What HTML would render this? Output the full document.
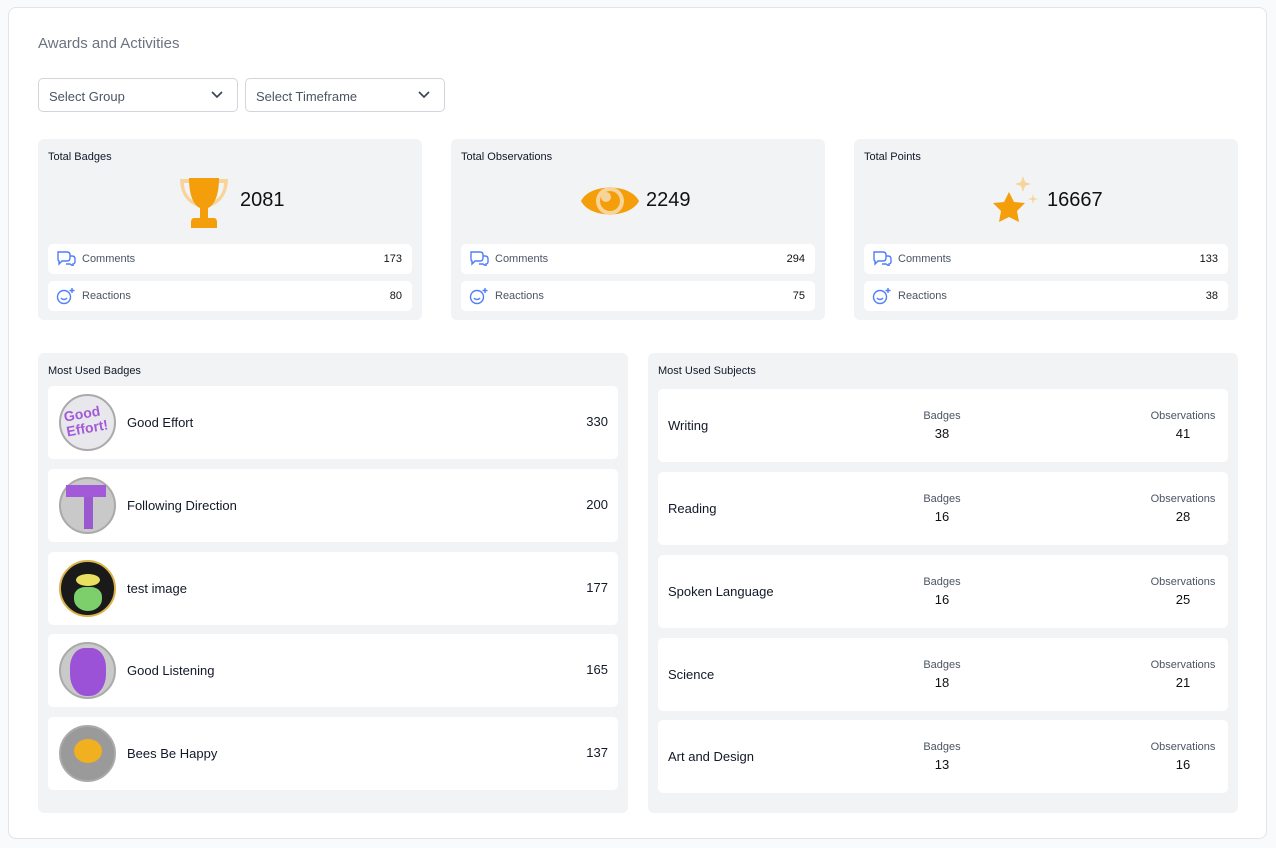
<!DOCTYPE html>
<html><head><style>
*{box-sizing:border-box;margin:0;padding:0}
body{width:1276px;height:848px;background:#f9fafb;font-family:"Liberation Sans",sans-serif;position:relative;overflow:hidden;color:#111827}
.abs{position:absolute}
.card{left:8px;top:7px;width:1259px;height:832px;background:#fff;border:1px solid #e2e4e8;border-radius:8px}
.sel{height:34px;top:78px;border:1px solid #d1d5db;border-radius:5px;font-size:13px;color:#4b5563;padding:10px 10px}
.sel svg{position:absolute;right:14px;top:12px}
.stat{top:139px;height:181px;background:#f2f3f5;border-radius:6px}
.stat .t{position:absolute;left:10px;top:12px;font-size:11px}
.row{position:absolute;left:10px;right:10px;height:30px;background:#fff;border-radius:5px;font-size:11px;color:#4b5563}
.row span.l{position:absolute;left:34px;top:9px}
.row span.r{position:absolute;right:10px;top:9px;color:#111;font-weight:500}
.row svg{position:absolute;left:8px;top:6px}
.big{position:absolute;top:50px;font-size:20px;color:#111}
.panel{top:353px;height:460px;background:#f2f3f5;border-radius:6px}
.panel .t{position:absolute;left:10px;top:12px;font-size:11px}
.b{position:absolute;left:10px;right:10px;height:73px;background:#fff;border-radius:5px}
.b .n{position:absolute;left:79px;top:29px;font-size:13px}
.b .v{position:absolute;right:10px;top:28px;font-size:13px}
.b .c{position:absolute;left:11px;top:8px;width:57px;height:57px;border-radius:50%;background:#c9c9c9;border:2px solid #aaa}
.s{position:absolute;left:10px;right:10px;height:73px;background:#fff;border-radius:5px}
.s .n{position:absolute;left:10px;top:29px;font-size:13px}
.s .col{position:absolute;top:20px;width:120px;text-align:center;font-size:11px;color:#4b5563;line-height:15px}
.s .col b{display:block;font-weight:normal;color:#111;font-size:13px;margin-top:2px}
</style></head><body>
<div class="abs card"></div>
<div class="abs" style="left:38px;top:35px;font-size:15px;color:#6b7280">Awards and Activities</div>
<div class="abs sel" style="left:38px;width:200px">Select Group<svg width="12" height="8"><path d="M1 1l5 5 5-5" stroke="#374151" stroke-width="1.6" fill="none"/></svg></div>
<div class="abs sel" style="left:245px;width:200px">Select Timeframe<svg width="12" height="8"><path d="M1 1l5 5 5-5" stroke="#374151" stroke-width="1.6" fill="none"/></svg></div>

<div class="abs stat" style="left:38px;width:384px"><div class="t">Total Badges</div>
<svg class="abs" style="left:136px;top:35px" width="60" height="55" viewBox="0 0 60 55"><path d="M6 5h12v4H10c0 10 6 17 14 20l-2 3C12 28 6 18 6 5zM54 5H42v4h8c0 10-6 17-14 20l2 3C48 28 54 18 54 5z" fill="#f7d49a"/><path d="M15 4h30c0 20-6 28-11 30v10h6c2 0 3 2 3 4v6H17v-6c0-2 1-4 3-4h6V34C21 32 15 24 15 4z" fill="#f59e0b"/></svg>
<div class="big" style="left:202px">2081</div>
<div class="row" style="top:105px"><svg width="20" height="16"><path d="M2 2h9c2 0 3 1 3 3v3c0 2-1 3-3 3H6l-3 3v-3c-1 0-1-1-1-3V5c0-2 0-3 0-3zM14 6h2c2 0 3 1 3 3v3c0 1-1 2-2 2v2l-3-2h-4" stroke="#4f7ef7" stroke-width="1.4" fill="none"/></svg><span class="l">Comments</span><span class="r">173</span></div>
<div class="row" style="top:142px"><svg width="20" height="18"><circle cx="8" cy="10" r="6.5" stroke="#4f7ef7" stroke-width="1.4" fill="none"/><path d="M5 11c1.5 2 4.5 2 6 0M16 1v5M13.5 3.5h5" stroke="#4f7ef7" stroke-width="1.4" fill="none"/></svg><span class="l">Reactions</span><span class="r">80</span></div></div>

<div class="abs stat" style="left:451px;width:374px"><div class="t">Total Observations</div>
<svg class="abs" style="left:129px;top:38px" width="60" height="48" viewBox="0 0 60 48"><path d="M1 24C10 6 50 6 59 24 50 42 10 42 1 24z" fill="#f59e0b"/><circle cx="30" cy="24" r="14" fill="#f7d49a"/><circle cx="30" cy="24" r="10" fill="#f59e0b"/><circle cx="26" cy="20" r="5" fill="#f7d49a"/></svg>
<div class="big" style="left:195px">2249</div>
<div class="row" style="top:105px"><svg width="20" height="16"><path d="M2 2h9c2 0 3 1 3 3v3c0 2-1 3-3 3H6l-3 3v-3c-1 0-1-1-1-3V5c0-2 0-3 0-3zM14 6h2c2 0 3 1 3 3v3c0 1-1 2-2 2v2l-3-2h-4" stroke="#4f7ef7" stroke-width="1.4" fill="none"/></svg><span class="l">Comments</span><span class="r">294</span></div>
<div class="row" style="top:142px"><svg width="20" height="18"><circle cx="8" cy="10" r="6.5" stroke="#4f7ef7" stroke-width="1.4" fill="none"/><path d="M5 11c1.5 2 4.5 2 6 0M16 1v5M13.5 3.5h5" stroke="#4f7ef7" stroke-width="1.4" fill="none"/></svg><span class="l">Reactions</span><span class="r">75</span></div></div>

<div class="abs stat" style="left:854px;width:384px"><div class="t">Total Points</div>
<svg class="abs" style="left:133px;top:35px" width="55" height="55" viewBox="0 0 55 55"><path d="M22 18l5 10 11 1-8 8 2 11-10-5-10 5 2-11-8-8 11-1z" fill="#f59e0b"/><path d="M36 2l2 6 6 2-6 2-2 6-2-6-6-2 6-2zM46 20l1 4 4 1-4 1-1 4-1-4-4-1 4-1z" fill="#f7d49a"/></svg>
<div class="big" style="left:193px">16667</div>
<div class="row" style="top:105px"><svg width="20" height="16"><path d="M2 2h9c2 0 3 1 3 3v3c0 2-1 3-3 3H6l-3 3v-3c-1 0-1-1-1-3V5c0-2 0-3 0-3zM14 6h2c2 0 3 1 3 3v3c0 1-1 2-2 2v2l-3-2h-4" stroke="#4f7ef7" stroke-width="1.4" fill="none"/></svg><span class="l">Comments</span><span class="r">133</span></div>
<div class="row" style="top:142px"><svg width="20" height="18"><circle cx="8" cy="10" r="6.5" stroke="#4f7ef7" stroke-width="1.4" fill="none"/><path d="M5 11c1.5 2 4.5 2 6 0M16 1v5M13.5 3.5h5" stroke="#4f7ef7" stroke-width="1.4" fill="none"/></svg><span class="l">Reactions</span><span class="r">38</span></div></div>

<div class="abs panel" style="left:38px;width:590px"><div class="t">Most Used Badges</div>
<div class="b" style="top:33px"><div class="c" style="background:#e8e8ec"></div><div class="abs" style="left:17px;top:20px;color:#a35ad8;font-weight:bold;font-size:14px;line-height:15px;transform:rotate(-10deg)">Good<br>Effort!</div><div class="n">Good Effort</div><div class="v">330</div></div>
<div class="b" style="top:116px"><div class="c"></div><div class="abs" style="left:36px;top:22px;width:9px;height:38px;background:#9b59d0"></div><div class="abs" style="left:18px;top:16px;width:40px;height:12px;background:#a35ad8"></div><div class="n">Following Direction</div><div class="v">200</div></div>
<div class="b" style="top:199px"><div class="c" style="background:#1a1a1a;border-color:#d8b44a"></div><div class="abs" style="left:26px;top:35px;width:28px;height:24px;background:#7ccf6b;border-radius:40% 40% 50% 50%"></div><div class="abs" style="left:28px;top:22px;width:24px;height:12px;background:#e8e060;border-radius:50%"></div><div class="n">test image</div><div class="v">177</div></div>
<div class="b" style="top:281px"><div class="c"></div><div class="abs" style="left:22px;top:14px;width:36px;height:48px;background:#9b52d6;border-radius:40% 40% 45% 45%"></div><div class="n">Good Listening</div><div class="v">165</div></div>
<div class="b" style="top:364px"><div class="c" style="background:#9a9a9a"></div><div class="abs" style="left:26px;top:22px;width:28px;height:24px;background:#f0b020;border-radius:50%"></div><div class="n">Bees Be Happy</div><div class="v">137</div></div>
</div>

<div class="abs panel" style="left:648px;width:590px"><div class="t">Most Used Subjects</div>
<div class="s" style="top:36px"><div class="n">Writing</div><div class="col" style="left:224px">Badges<b>38</b></div><div class="col" style="left:465px">Observations<b>41</b></div></div>
<div class="s" style="top:119px"><div class="n">Reading</div><div class="col" style="left:224px">Badges<b>16</b></div><div class="col" style="left:465px">Observations<b>28</b></div></div>
<div class="s" style="top:202px"><div class="n">Spoken Language</div><div class="col" style="left:224px">Badges<b>16</b></div><div class="col" style="left:465px">Observations<b>25</b></div></div>
<div class="s" style="top:285px"><div class="n">Science</div><div class="col" style="left:224px">Badges<b>18</b></div><div class="col" style="left:465px">Observations<b>21</b></div></div>
<div class="s" style="top:367px"><div class="n">Art and Design</div><div class="col" style="left:224px">Badges<b>13</b></div><div class="col" style="left:465px">Observations<b>16</b></div></div>
</div>
</body></html>
